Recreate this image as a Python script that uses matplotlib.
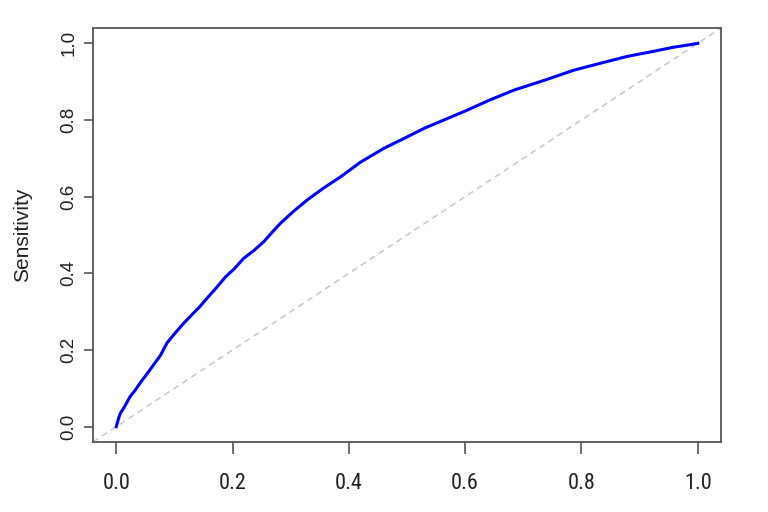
import matplotlib
matplotlib.use("Agg")
import matplotlib.pyplot as plt

# ROC curve
fpr = [0.0, 0.004, 0.007, 0.013, 0.024, 0.033, 0.041, 0.052, 0.064, 0.076,
       0.087, 0.100, 0.116, 0.130, 0.143, 0.156, 0.172, 0.188, 0.203, 0.219,
       0.237, 0.254, 0.268, 0.282, 0.305, 0.328, 0.356, 0.386, 0.420, 0.460,
       0.495, 0.529, 0.565, 0.604, 0.642, 0.684, 0.735, 0.787, 0.835, 0.879,
       0.920, 0.959, 0.985, 1.0]
tpr = [0.0, 0.022, 0.035, 0.049, 0.079, 0.096, 0.114, 0.136, 0.161, 0.186,
       0.218, 0.242, 0.270, 0.292, 0.312, 0.335, 0.362, 0.391, 0.412, 0.439,
       0.460, 0.483, 0.507, 0.530, 0.562, 0.591, 0.622, 0.652, 0.690, 0.726,
       0.752, 0.778, 0.801, 0.826, 0.852, 0.878, 0.903, 0.930, 0.949, 0.966,
       0.978, 0.990, 0.996, 1.0]

ticks = [0.0, 0.2, 0.4, 0.6, 0.8, 1.0]
tick_labels = ["0.0", "0.2", "0.4", "0.6", "0.8", "1.0"]

narrow = ["Roboto Condensed", "Archivo Narrow", "PT Sans Narrow", "Liberation Sans"]

fig = plt.figure(figsize=(7.68, 5.12), dpi=100)
ax = fig.add_axes([93 / 768, 1 - 442 / 512, 628 / 768, 414 / 512])

# chance line
ax.axline((0, 0), (1, 1), color="#c8c8c8", lw=1.1, ls=(0, (4, 3)), zorder=1)
ax.plot(fpr, tpr, color="#0000ff", lw=2.2, zorder=2)

ax.set_xlim(-0.04, 1.04)
ax.set_ylim(-0.04, 1.04)

ax.set_xticks(ticks)
ax.set_xticklabels(tick_labels, family=narrow, fontsize=16, color="#222222")
ax.set_yticks(ticks)
ax.set_yticklabels(tick_labels, family="Liberation Sans", fontsize=13.5,
                   rotation=90, va="center", color="#222222")

ax.tick_params(axis="x", length=8.6, width=1.2, color="#555555", pad=14)
ax.tick_params(axis="y", length=6.2, width=1.2, color="#555555", pad=5)

for sp in ax.spines.values():
    sp.set_color("#555555")
    sp.set_linewidth(1.3)

ax.set_ylabel("Sensitivity", family="Liberation Sans", fontsize=15,
              color="#222222")
ax.yaxis.set_label_coords(-0.097, 0.5)

fig.savefig("out.png", dpi=100)
